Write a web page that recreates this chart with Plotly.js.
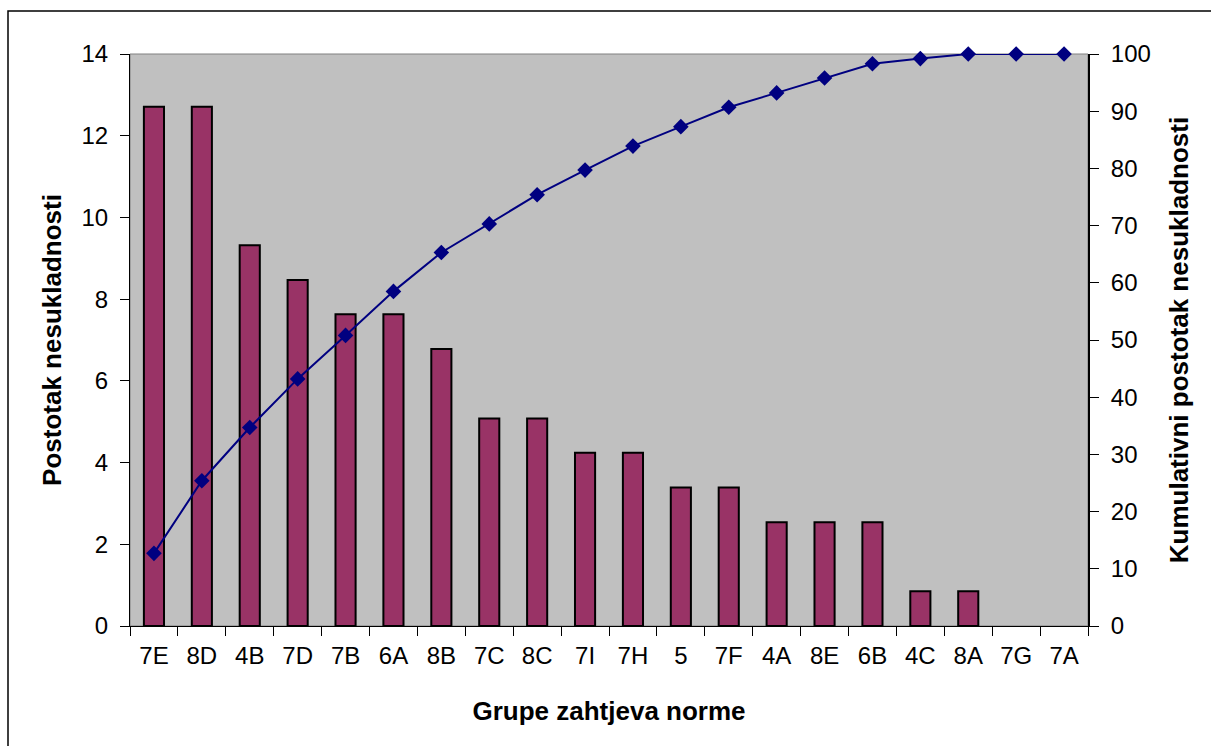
<!DOCTYPE html>
<html>
<head>
<meta charset="utf-8">
<script src="https://cdn.plot.ly/plotly-3.0.1.min.js"></script>
<style>html,body{margin:0;padding:0;background:#fff;}#chart{width:1211px;height:746px;}</style>
</head>
<body>
<div id="chart"></div>
<script>
const categories = ["7E","8D","4B","7D","7B","6A","8B","7C","8C","7I","7H","5","7F","4A","8E","6B","4C","8A","7G","7A"];
const percentValues = [12.71,12.71,9.32,8.47,7.63,7.63,6.78,5.08,5.08,4.24,4.24,3.39,3.39,2.54,2.54,2.54,0.85,0.85,0,0];
const cumulativeValues = [12.7,25.4,34.7,43.2,50.8,58.5,65.3,70.3,75.4,79.7,83.9,87.3,90.7,93.2,95.8,98.3,99.2,100,100,100];
const leftTicks = [0,2,4,6,8,10,12,14];
const rightTicks = [0,10,20,30,40,50,60,70,80,90,100];

const font = {family: "Liberation Sans, Arial, sans-serif", color: "#000"};
const tickFont = Object.assign({size: 24}, font);
const titleFont = Object.assign({size: 26}, font);

const traces = [
  {
    type: "bar", x: categories, y: percentValues, width: 0.42,
    marker: {color: "#993366", line: {color: "#000", width: percentValues.map(v => v > 0 ? 2 : 0)}},
    yaxis: "y"
  },
  {
    type: "scatter", mode: "lines+markers", x: categories, y: cumulativeValues, yaxis: "y2",
    line: {color: "#000080", width: 2},
    marker: {symbol: "diamond", size: 12, color: "#000080"},
    cliponaxis: false
  }
];

const layout = {
  width: 1211, height: 746,
  margin: {l: 130, r: 123, t: 54, b: 120},
  paper_bgcolor: "#fff", plot_bgcolor: "#c0c0c0",
  showlegend: false,
  font: tickFont,
  xaxis: {
    type: "category", tickson: "boundaries", ticks: "outside", ticklen: 9, tickcolor: "#000", tickwidth: 1,
    showline: true, linecolor: "#000", linewidth: 1, showgrid: false, zeroline: false,
    tickfont: tickFont, ticklabelstandoff: 8,
    title: {text: "<b>Grupe zahtjeva norme</b>", font: titleFont, standoff: 34},
    range: [-0.5, 19.5]
  },
  yaxis: {
    range: [0, 14], tickvals: leftTicks, ticks: "outside", ticklen: 9, tickcolor: "#000",
    showline: true, linecolor: "#000", linewidth: 1, showgrid: false, zeroline: false,
    tickfont: tickFont, ticklabelstandoff: 7,
    title: {text: "<b>Postotak nesukladnosti</b>", font: titleFont, standoff: 12}
  },
  yaxis2: {
    range: [0, 100], tickvals: rightTicks, overlaying: "y", side: "right",
    ticks: "outside", ticklen: 9, tickcolor: "#000",
    showline: true, linecolor: "#000", linewidth: 2, showgrid: false, zeroline: false,
    tickfont: tickFont, ticklabelstandoff: 7,
    title: {text: "<b>Kumulativni postotak nesukladnosti</b>", font: titleFont, standoff: 20}
  },
  shapes: [
    {type: "rect", xref: "paper", yref: "paper", x0: 0, x1: 1, y0: 0, y1: 1, line: {color: "#808080", width: 1}, layer: "below"},
    {type: "rect", xref: "paper", yref: "paper", x0: -122/958, x1: 1 + 140/958, y0: -140/572, y1: 1 + 43/572, line: {color: "#000", width: 1.5}}
  ]
};

Plotly.newPlot("chart", traces, layout, {displayModeBar: false, staticPlot: true});
</script>
</body>
</html>
